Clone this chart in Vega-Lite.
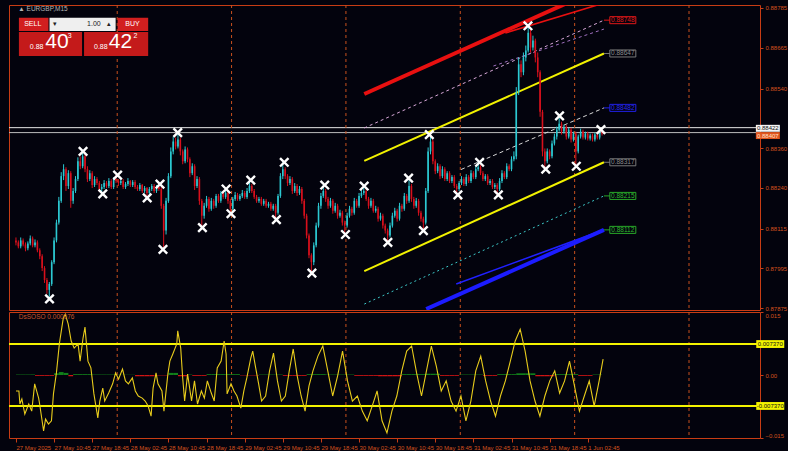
{
"$schema":"https://vega.github.io/schema/vega-lite/v6.json",
"background":"#03030d",
"padding":{"left":7,"top":4,"right":0,"bottom":0},
"spacing":2,
"bounds":"flush",
"config":{"view":{"stroke":"#c83c14","strokeWidth":1},"font":"Liberation Sans","axis":{"grid":false,"domain":false,"labelFont":"Liberation Sans","labelFontSize":6,"labelColor":"#d2521e","tickColor":"#c83c14","tickSize":3}},
"resolve":{"scale":{"x":"independent","y":"independent"}},
"datasets":{
"midnight":[{"t":21.25},{"t":45.25},{"t":69.25},{"t":93.25},{"t":117.25},{"t":141.25}],
"candles":[
{"t":0,"o":0.8808,"h":0.88089,"l":0.88065,"c":0.88074},{"t":0.5,"o":0.88074,"h":0.8808,"l":0.88056,"c":0.88062},{"t":1,"o":0.88062,"h":0.88089,"l":0.88056,"c":0.8808},{"t":1.5,"o":0.8808,"h":0.88086,"l":0.88062,"c":0.88068},{"t":2,"o":0.88068,"h":0.88074,"l":0.88047,"c":0.88056},{"t":2.5,"o":0.88056,"h":0.88077,"l":0.8805,"c":0.88071},{"t":3,"o":0.88071,"h":0.88095,"l":0.88065,"c":0.88086},{"t":3.5,"o":0.88086,"h":0.88092,"l":0.88059,"c":0.88065},{"t":4,"o":0.88065,"h":0.88083,"l":0.88059,"c":0.88074},{"t":4.5,"o":0.88074,"h":0.8808,"l":0.88044,"c":0.8805},
{"t":5,"o":0.8805,"h":0.88056,"l":0.88023,"c":0.88032},{"t":5.5,"o":0.88032,"h":0.88038,"l":0.87987,"c":0.87996},{"t":6,"o":0.87996,"h":0.88002,"l":0.87951,"c":0.8796},{"t":6.5,"o":0.8796,"h":0.87966,"l":0.87918,"c":0.8793},{"t":7,"o":0.8793,"h":0.87954,"l":0.87909,"c":0.87948},{"t":7.5,"o":0.87948,"h":0.8802,"l":0.87942,"c":0.88014},{"t":8,"o":0.88014,"h":0.88089,"l":0.88008,"c":0.8808},{"t":8.5,"o":0.8808,"h":0.88143,"l":0.88074,"c":0.88134},{"t":9,"o":0.88134,"h":0.88212,"l":0.88128,"c":0.882},{"t":9.5,"o":0.882,"h":0.88287,"l":0.88194,"c":0.88275},
{"t":10,"o":0.88275,"h":0.88311,"l":0.88263,"c":0.88296},{"t":10.5,"o":0.88296,"h":0.88302,"l":0.8823,"c":0.88245},{"t":11,"o":0.88245,"h":0.88293,"l":0.88236,"c":0.88284},{"t":11.5,"o":0.88284,"h":0.8829,"l":0.88179,"c":0.882},{"t":12,"o":0.882,"h":0.88239,"l":0.88191,"c":0.8823},{"t":12.5,"o":0.8823,"h":0.88275,"l":0.88224,"c":0.88266},{"t":13,"o":0.88266,"h":0.88332,"l":0.8826,"c":0.8832},{"t":13.5,"o":0.8832,"h":0.88335,"l":0.88296,"c":0.88305},{"t":14,"o":0.88305,"h":0.8835,"l":0.88299,"c":0.88335},{"t":14.5,"o":0.88335,"h":0.88341,"l":0.88287,"c":0.88296},
{"t":15,"o":0.88296,"h":0.88305,"l":0.88257,"c":0.88266},{"t":15.5,"o":0.88266,"h":0.88293,"l":0.8826,"c":0.88284},{"t":16,"o":0.88284,"h":0.8829,"l":0.88239,"c":0.88248},{"t":16.5,"o":0.88248,"h":0.88275,"l":0.88242,"c":0.88266},{"t":17,"o":0.88266,"h":0.88272,"l":0.88248,"c":0.88254},{"t":17.5,"o":0.88254,"h":0.8826,"l":0.88227,"c":0.88236},{"t":18,"o":0.88236,"h":0.88251,"l":0.88221,"c":0.88242},{"t":18.5,"o":0.88242,"h":0.88263,"l":0.88236,"c":0.88254},{"t":19,"o":0.88254,"h":0.8826,"l":0.88239,"c":0.88245},{"t":19.5,"o":0.88245,"h":0.88269,"l":0.88239,"c":0.8826},
{"t":20,"o":0.8826,"h":0.88266,"l":0.88236,"c":0.88242},{"t":20.5,"o":0.88242,"h":0.88272,"l":0.88236,"c":0.88266},{"t":21,"o":0.88266,"h":0.88278,"l":0.88254,"c":0.8826},{"t":21.5,"o":0.8826,"h":0.88266,"l":0.88245,"c":0.88254},{"t":22,"o":0.88254,"h":0.88269,"l":0.88248,"c":0.8826},{"t":22.5,"o":0.8826,"h":0.88266,"l":0.88236,"c":0.88242},{"t":23,"o":0.88242,"h":0.88257,"l":0.88236,"c":0.88251},{"t":23.5,"o":0.88251,"h":0.88269,"l":0.88245,"c":0.8826},{"t":24,"o":0.8826,"h":0.88263,"l":0.88242,"c":0.88248},{"t":24.5,"o":0.88248,"h":0.88263,"l":0.88242,"c":0.88257},
{"t":25,"o":0.88257,"h":0.88263,"l":0.88236,"c":0.88242},{"t":25.5,"o":0.88242,"h":0.88248,"l":0.8823,"c":0.88236},{"t":26,"o":0.88236,"h":0.88254,"l":0.8823,"c":0.88248},{"t":26.5,"o":0.88248,"h":0.88251,"l":0.88224,"c":0.8823},{"t":27,"o":0.8823,"h":0.88245,"l":0.88224,"c":0.88239},{"t":27.5,"o":0.88239,"h":0.88242,"l":0.88209,"c":0.88224},{"t":28,"o":0.88224,"h":0.88242,"l":0.88218,"c":0.88236},{"t":28.5,"o":0.88236,"h":0.88251,"l":0.8823,"c":0.88245},{"t":29,"o":0.88245,"h":0.88251,"l":0.88224,"c":0.8823},{"t":29.5,"o":0.8823,"h":0.88248,"l":0.88224,"c":0.88242},
{"t":30,"o":0.88242,"h":0.88254,"l":0.8823,"c":0.88236},{"t":30.5,"o":0.88236,"h":0.88242,"l":0.88176,"c":0.88185},{"t":31,"o":0.88185,"h":0.88191,"l":0.88053,"c":0.8811},{"t":31.5,"o":0.8811,"h":0.88209,"l":0.88098,"c":0.882},{"t":32,"o":0.882,"h":0.88284,"l":0.88194,"c":0.88275},{"t":32.5,"o":0.88275,"h":0.88362,"l":0.88269,"c":0.8835},{"t":33,"o":0.8835,"h":0.88395,"l":0.88341,"c":0.8838},{"t":33.5,"o":0.8838,"h":0.88392,"l":0.88356,"c":0.88365},{"t":34,"o":0.88365,"h":0.88407,"l":0.88359,"c":0.88386},{"t":34.5,"o":0.88386,"h":0.88392,"l":0.88338,"c":0.8835},
{"t":35,"o":0.8835,"h":0.88356,"l":0.88311,"c":0.8832},{"t":35.5,"o":0.8832,"h":0.88365,"l":0.88314,"c":0.88356},{"t":36,"o":0.88356,"h":0.88362,"l":0.88317,"c":0.88326},{"t":36.5,"o":0.88326,"h":0.88332,"l":0.88272,"c":0.88284},{"t":37,"o":0.88284,"h":0.88314,"l":0.88278,"c":0.88305},{"t":37.5,"o":0.88305,"h":0.88311,"l":0.88233,"c":0.88245},{"t":38,"o":0.88245,"h":0.88275,"l":0.88239,"c":0.88266},{"t":38.5,"o":0.88266,"h":0.88272,"l":0.88188,"c":0.882},{"t":39,"o":0.882,"h":0.88206,"l":0.88119,"c":0.88155},{"t":39.5,"o":0.88155,"h":0.88194,"l":0.88146,"c":0.88185},
{"t":40,"o":0.88185,"h":0.88215,"l":0.88179,"c":0.88206},{"t":40.5,"o":0.88206,"h":0.88212,"l":0.88167,"c":0.88176},{"t":41,"o":0.88176,"h":0.88209,"l":0.8817,"c":0.882},{"t":41.5,"o":0.882,"h":0.88206,"l":0.88176,"c":0.88185},{"t":42,"o":0.88185,"h":0.88221,"l":0.88179,"c":0.88215},{"t":42.5,"o":0.88215,"h":0.88221,"l":0.88194,"c":0.882},{"t":43,"o":0.882,"h":0.8823,"l":0.88194,"c":0.88224},{"t":43.5,"o":0.88224,"h":0.8823,"l":0.88206,"c":0.88212},{"t":44,"o":0.88212,"h":0.88236,"l":0.88206,"c":0.88224},{"t":44.5,"o":0.88224,"h":0.8823,"l":0.88191,"c":0.882},
{"t":45,"o":0.882,"h":0.88206,"l":0.88161,"c":0.88176},{"t":45.5,"o":0.88176,"h":0.88212,"l":0.8817,"c":0.88206},{"t":46,"o":0.88206,"h":0.88227,"l":0.882,"c":0.88218},{"t":46.5,"o":0.88218,"h":0.88224,"l":0.882,"c":0.88206},{"t":47,"o":0.88206,"h":0.88221,"l":0.882,"c":0.88215},{"t":47.5,"o":0.88215,"h":0.88233,"l":0.88209,"c":0.88224},{"t":48,"o":0.88224,"h":0.8823,"l":0.88206,"c":0.88212},{"t":48.5,"o":0.88212,"h":0.88239,"l":0.88206,"c":0.8823},{"t":49,"o":0.8823,"h":0.88263,"l":0.88224,"c":0.88245},{"t":49.5,"o":0.88245,"h":0.88251,"l":0.88224,"c":0.8823},
{"t":50,"o":0.8823,"h":0.88236,"l":0.88206,"c":0.88212},{"t":50.5,"o":0.88212,"h":0.88218,"l":0.88194,"c":0.882},{"t":51,"o":0.882,"h":0.88212,"l":0.88194,"c":0.88206},{"t":51.5,"o":0.88206,"h":0.88212,"l":0.88185,"c":0.88191},{"t":52,"o":0.88191,"h":0.88206,"l":0.88185,"c":0.882},{"t":52.5,"o":0.882,"h":0.88206,"l":0.88179,"c":0.88185},{"t":53,"o":0.88185,"h":0.88197,"l":0.88179,"c":0.88191},{"t":53.5,"o":0.88191,"h":0.88197,"l":0.8817,"c":0.88176},{"t":54,"o":0.88176,"h":0.88191,"l":0.8817,"c":0.88185},{"t":54.5,"o":0.88185,"h":0.88191,"l":0.88143,"c":0.88164},
{"t":55,"o":0.88164,"h":0.88221,"l":0.88158,"c":0.88215},{"t":55.5,"o":0.88215,"h":0.88284,"l":0.88209,"c":0.88275},{"t":56,"o":0.88275,"h":0.88317,"l":0.88266,"c":0.88296},{"t":56.5,"o":0.88296,"h":0.88302,"l":0.88266,"c":0.88275},{"t":57,"o":0.88275,"h":0.88281,"l":0.88245,"c":0.88254},{"t":57.5,"o":0.88254,"h":0.88275,"l":0.88248,"c":0.88266},{"t":58,"o":0.88266,"h":0.88272,"l":0.88221,"c":0.8823},{"t":58.5,"o":0.8823,"h":0.88254,"l":0.88224,"c":0.88245},{"t":59,"o":0.88245,"h":0.88251,"l":0.88215,"c":0.88224},{"t":59.5,"o":0.88224,"h":0.88245,"l":0.88218,"c":0.88236},
{"t":60,"o":0.88236,"h":0.88242,"l":0.88191,"c":0.882},{"t":60.5,"o":0.882,"h":0.88206,"l":0.88146,"c":0.88155},{"t":61,"o":0.88155,"h":0.88161,"l":0.88086,"c":0.88095},{"t":61.5,"o":0.88095,"h":0.88101,"l":0.88026,"c":0.88035},{"t":62,"o":0.88035,"h":0.88041,"l":0.87981,"c":0.88014},{"t":62.5,"o":0.88014,"h":0.88074,"l":0.88005,"c":0.88065},{"t":63,"o":0.88065,"h":0.88134,"l":0.88059,"c":0.88125},{"t":63.5,"o":0.88125,"h":0.88194,"l":0.88119,"c":0.88185},{"t":64,"o":0.88185,"h":0.88224,"l":0.88176,"c":0.88215},{"t":64.5,"o":0.88215,"h":0.88248,"l":0.88209,"c":0.8823},
{"t":65,"o":0.8823,"h":0.88236,"l":0.88197,"c":0.88206},{"t":65.5,"o":0.88206,"h":0.88212,"l":0.88176,"c":0.88185},{"t":66,"o":0.88185,"h":0.88209,"l":0.88179,"c":0.882},{"t":66.5,"o":0.882,"h":0.88206,"l":0.88161,"c":0.8817},{"t":67,"o":0.8817,"h":0.88194,"l":0.88164,"c":0.88185},{"t":67.5,"o":0.88185,"h":0.88191,"l":0.88146,"c":0.88155},{"t":68,"o":0.88155,"h":0.88173,"l":0.88149,"c":0.88164},{"t":68.5,"o":0.88164,"h":0.8817,"l":0.88125,"c":0.88134},{"t":69,"o":0.88134,"h":0.8814,"l":0.88098,"c":0.88125},{"t":69.5,"o":0.88125,"h":0.88164,"l":0.88119,"c":0.88155},
{"t":70,"o":0.88155,"h":0.88185,"l":0.88149,"c":0.88176},{"t":70.5,"o":0.88176,"h":0.88182,"l":0.88155,"c":0.88164},{"t":71,"o":0.88164,"h":0.88209,"l":0.88158,"c":0.882},{"t":71.5,"o":0.882,"h":0.88206,"l":0.88179,"c":0.88185},{"t":72,"o":0.88185,"h":0.88224,"l":0.88179,"c":0.88215},{"t":72.5,"o":0.88215,"h":0.88233,"l":0.88209,"c":0.88224},{"t":73,"o":0.88224,"h":0.88245,"l":0.88218,"c":0.8823},{"t":73.5,"o":0.8823,"h":0.88236,"l":0.882,"c":0.88206},{"t":74,"o":0.88206,"h":0.88212,"l":0.88176,"c":0.88185},{"t":74.5,"o":0.88185,"h":0.88209,"l":0.88179,"c":0.882},
{"t":75,"o":0.882,"h":0.88206,"l":0.88164,"c":0.8817},{"t":75.5,"o":0.8817,"h":0.88185,"l":0.88164,"c":0.88176},{"t":76,"o":0.88176,"h":0.88182,"l":0.88137,"c":0.88146},{"t":76.5,"o":0.88146,"h":0.88164,"l":0.8814,"c":0.88155},{"t":77,"o":0.88155,"h":0.88161,"l":0.88116,"c":0.88125},{"t":77.5,"o":0.88125,"h":0.88131,"l":0.88101,"c":0.8811},{"t":78,"o":0.8811,"h":0.88116,"l":0.88074,"c":0.88095},{"t":78.5,"o":0.88095,"h":0.88134,"l":0.88089,"c":0.88125},{"t":79,"o":0.88125,"h":0.88164,"l":0.88119,"c":0.88155},{"t":79.5,"o":0.88155,"h":0.88179,"l":0.88149,"c":0.8817},
{"t":80,"o":0.8817,"h":0.88176,"l":0.88137,"c":0.88146},{"t":80.5,"o":0.88146,"h":0.88194,"l":0.8814,"c":0.88185},{"t":81,"o":0.88185,"h":0.88191,"l":0.88167,"c":0.88176},{"t":81.5,"o":0.88176,"h":0.88224,"l":0.8817,"c":0.88215},{"t":82,"o":0.88215,"h":0.88221,"l":0.88191,"c":0.882},{"t":82.5,"o":0.882,"h":0.88269,"l":0.88194,"c":0.88245},{"t":83,"o":0.88245,"h":0.88251,"l":0.88197,"c":0.88206},{"t":83.5,"o":0.88206,"h":0.88212,"l":0.88176,"c":0.88185},{"t":84,"o":0.88185,"h":0.88209,"l":0.88179,"c":0.882},{"t":84.5,"o":0.882,"h":0.88206,"l":0.88155,"c":0.88164},
{"t":85,"o":0.88164,"h":0.8817,"l":0.88137,"c":0.88146},{"t":85.5,"o":0.88146,"h":0.88152,"l":0.8811,"c":0.88134},{"t":86,"o":0.88134,"h":0.88239,"l":0.88128,"c":0.8823},{"t":86.5,"o":0.8823,"h":0.88362,"l":0.88224,"c":0.8835},{"t":87,"o":0.8835,"h":0.88401,"l":0.88341,"c":0.8838},{"t":87.5,"o":0.8838,"h":0.88386,"l":0.88311,"c":0.8832},{"t":88,"o":0.8832,"h":0.88326,"l":0.88281,"c":0.8829},{"t":88.5,"o":0.8829,"h":0.88314,"l":0.88284,"c":0.88305},{"t":89,"o":0.88305,"h":0.88311,"l":0.88266,"c":0.88275},{"t":89.5,"o":0.88275,"h":0.88305,"l":0.88269,"c":0.88296},
{"t":90,"o":0.88296,"h":0.88302,"l":0.8826,"c":0.88266},{"t":90.5,"o":0.88266,"h":0.8829,"l":0.8826,"c":0.88284},{"t":91,"o":0.88284,"h":0.8829,"l":0.88254,"c":0.8826},{"t":91.5,"o":0.8826,"h":0.88278,"l":0.88254,"c":0.88272},{"t":92,"o":0.88272,"h":0.88278,"l":0.88239,"c":0.88245},{"t":92.5,"o":0.88245,"h":0.88251,"l":0.88218,"c":0.88236},{"t":93,"o":0.88236,"h":0.8826,"l":0.8823,"c":0.88254},{"t":93.5,"o":0.88254,"h":0.88275,"l":0.88248,"c":0.88266},{"t":94,"o":0.88266,"h":0.88272,"l":0.88245,"c":0.88251},{"t":94.5,"o":0.88251,"h":0.88281,"l":0.88245,"c":0.88272},
{"t":95,"o":0.88272,"h":0.88278,"l":0.88254,"c":0.8826},{"t":95.5,"o":0.8826,"h":0.88293,"l":0.88254,"c":0.88284},{"t":96,"o":0.88284,"h":0.8829,"l":0.88266,"c":0.88272},{"t":96.5,"o":0.88272,"h":0.88305,"l":0.88266,"c":0.88296},{"t":97,"o":0.88296,"h":0.88317,"l":0.8829,"c":0.88302},{"t":97.5,"o":0.88302,"h":0.88308,"l":0.88278,"c":0.88284},{"t":98,"o":0.88284,"h":0.8829,"l":0.8826,"c":0.88266},{"t":98.5,"o":0.88266,"h":0.88281,"l":0.8826,"c":0.88275},{"t":99,"o":0.88275,"h":0.88281,"l":0.88248,"c":0.88254},{"t":99.5,"o":0.88254,"h":0.88266,"l":0.88248,"c":0.8826},
{"t":100,"o":0.8826,"h":0.88266,"l":0.88236,"c":0.88242},{"t":100.5,"o":0.88242,"h":0.88254,"l":0.88236,"c":0.88248},{"t":101,"o":0.88248,"h":0.88254,"l":0.88218,"c":0.88236},{"t":101.5,"o":0.88236,"h":0.88269,"l":0.8823,"c":0.8826},{"t":102,"o":0.8826,"h":0.88293,"l":0.88254,"c":0.88284},{"t":102.5,"o":0.88284,"h":0.8829,"l":0.88266,"c":0.88272},{"t":103,"o":0.88272,"h":0.88314,"l":0.88266,"c":0.88305},{"t":103.5,"o":0.88305,"h":0.88311,"l":0.8829,"c":0.88296},{"t":104,"o":0.88296,"h":0.88335,"l":0.8829,"c":0.88326},{"t":104.5,"o":0.88326,"h":0.8835,"l":0.8832,"c":0.88335},
{"t":105,"o":0.88335,"h":0.88545,"l":0.88326,"c":0.8853},{"t":105.5,"o":0.8853,"h":0.88635,"l":0.88521,"c":0.88614},{"t":106,"o":0.88614,"h":0.88626,"l":0.88575,"c":0.8859},{"t":106.5,"o":0.8859,"h":0.8865,"l":0.88581,"c":0.88635},{"t":107,"o":0.88635,"h":0.88671,"l":0.88623,"c":0.88656},{"t":107.5,"o":0.88656,"h":0.88734,"l":0.8865,"c":0.8871},{"t":108,"o":0.8871,"h":0.88719,"l":0.8865,"c":0.88665},{"t":108.5,"o":0.88665,"h":0.88701,"l":0.88656,"c":0.88686},{"t":109,"o":0.88686,"h":0.88692,"l":0.8862,"c":0.88635},{"t":109.5,"o":0.88635,"h":0.8865,"l":0.88575,"c":0.8859},
{"t":110,"o":0.8859,"h":0.88596,"l":0.88455,"c":0.8847},{"t":110.5,"o":0.8847,"h":0.88476,"l":0.88335,"c":0.8835},{"t":111,"o":0.8835,"h":0.88359,"l":0.88296,"c":0.8832},{"t":111.5,"o":0.8832,"h":0.88359,"l":0.88314,"c":0.8835},{"t":112,"o":0.8835,"h":0.88356,"l":0.88326,"c":0.88335},{"t":112.5,"o":0.88335,"h":0.88383,"l":0.88329,"c":0.88374},{"t":113,"o":0.88374,"h":0.88404,"l":0.88368,"c":0.88395},{"t":113.5,"o":0.88395,"h":0.88425,"l":0.88386,"c":0.88416},{"t":114,"o":0.88416,"h":0.88458,"l":0.8841,"c":0.88434},{"t":114.5,"o":0.88434,"h":0.8844,"l":0.88401,"c":0.8841},
{"t":115,"o":0.8841,"h":0.88431,"l":0.88404,"c":0.88425},{"t":115.5,"o":0.88425,"h":0.88431,"l":0.88386,"c":0.88395},{"t":116,"o":0.88395,"h":0.88422,"l":0.88389,"c":0.88416},{"t":116.5,"o":0.88416,"h":0.88422,"l":0.88377,"c":0.88386},{"t":117,"o":0.88386,"h":0.8841,"l":0.8838,"c":0.88404},{"t":117.5,"o":0.88404,"h":0.8841,"l":0.88305,"c":0.8835},{"t":118,"o":0.8835,"h":0.88401,"l":0.88344,"c":0.88395},{"t":118.5,"o":0.88395,"h":0.88419,"l":0.88389,"c":0.8841},{"t":119,"o":0.8841,"h":0.88416,"l":0.88386,"c":0.88392},{"t":119.5,"o":0.88392,"h":0.8841,"l":0.88386,"c":0.88404},
{"t":120,"o":0.88404,"h":0.8841,"l":0.88383,"c":0.88389},{"t":120.5,"o":0.88389,"h":0.88404,"l":0.88383,"c":0.88398},{"t":121,"o":0.88398,"h":0.88404,"l":0.8838,"c":0.88386},{"t":121.5,"o":0.88386,"h":0.88407,"l":0.8838,"c":0.88401},{"t":122,"o":0.88401,"h":0.88407,"l":0.88386,"c":0.88392},{"t":122.5,"o":0.88392,"h":0.88416,"l":0.88386,"c":0.8841},{"t":123,"o":0.8841,"h":0.88416,"l":0.88398,"c":0.88404}
],
"zz":[{"t":7.04,"p":0.87903},{"t":14.08,"p":0.8835},{"t":18.22,"p":0.88221},{"t":21.33,"p":0.88278},{"t":27.54,"p":0.88209},{"t":30.23,"p":0.88251},{"t":30.85,"p":0.88053},{"t":33.95,"p":0.88407},{"t":39.13,"p":0.88119},{"t":44.1,"p":0.88236},{"t":45.13,"p":0.88161},{"t":49.28,"p":0.88263},{"t":54.66,"p":0.88143},{"t":56.31,"p":0.88317},{"t":62.11,"p":0.87981},{"t":64.8,"p":0.88248},{"t":69.15,"p":0.88098},{"t":73.08,"p":0.88245},{"t":78.05,"p":0.88074},{"t":82.4,"p":0.88269},{"t":85.51,"p":0.8811},{"t":86.75,"p":0.88401},{"t":92.75,"p":0.88218},{"t":97.31,"p":0.88317},{"t":101.24,"p":0.88218},{"t":107.45,"p":0.88731},{"t":111.18,"p":0.88296},{"t":114.08,"p":0.88458},{"t":117.6,"p":0.88305},{"t":122.77,"p":0.88416}],
"levels":[
{"name":"outer upper","t1":73.1,"p1":0.88524,"t2":123.4,"p2":0.8885},
{"name":"thin red","t1":102.7,"p1":0.88709,"t2":123.4,"p2":0.888},
{"name":"upper dashed","t1":73.1,"p1":0.88421,"t2":123.4,"p2":0.88748},
{"name":"upper dashed 2","t1":100.2,"p1":0.88609,"t2":123.4,"p2":0.88721},
{"name":"upper","t1":73.1,"p1":0.88321,"t2":123.4,"p2":0.88647},
{"name":"median","t1":93.4,"p1":0.88295,"t2":123.4,"p2":0.88482},
{"name":"lower","t1":73.1,"p1":0.87987,"t2":123.4,"p2":0.88317},
{"name":"lower dotted","t1":73.1,"p1":0.87887,"t2":123.4,"p2":0.88215},
{"name":"thin blue","t1":92.4,"p1":0.87948,"t2":123.4,"p2":0.88112},
{"name":"outer lower","t1":86.1,"p1":0.87872,"t2":123.4,"p2":0.88112}],
"tags":[{"label":"0.88748","p":0.88748},{"label":"0.88647","p":0.88647},{"label":"0.88482","p":0.88482},{"label":"0.88317","p":0.88317},{"label":"0.88215","p":0.88215},{"label":"0.88112","p":0.88112}],
"osc":[
{"t":0,"v":-0.0038},{"t":0.62,"v":-0.0038},{"t":0.83,"v":-0.0069},{"t":1.24,"v":-0.0057},{"t":1.86,"v":-0.0093},{"t":2.69,"v":-0.0069},{"t":3.31,"v":-0.0086},{"t":3.93,"v":-0.0021},{"t":4.76,"v":-0.0055},{"t":4.97,"v":-0.0069},{"t":5.8,"v":-0.0133},{"t":6.21,"v":-0.0105},{"t":6.83,"v":-0.0117},{"t":7.45,"v":-0.0109},{"t":7.87,"v":-0.0045},{"t":8.49,"v":0.0005},{"t":9.11,"v":0.0074},{"t":9.52,"v":0.0105},{"t":9.94,"v":0.0136},{"t":10.35,"v":0.0145},{"t":10.97,"v":0.0121},{"t":11.59,"v":0.0081},{"t":12.22,"v":0.0064},{"t":13.04,"v":0.0074},{"t":13.46,"v":0.0033},{"t":14.08,"v":0.0088},{"t":14.49,"v":0.0114},{"t":15.11,"v":0.0033},{"t":15.73,"v":0.0017},{"t":16.36,"v":-0.0045},{"t":17.18,"v":-0.0102},{"t":17.6,"v":-0.0062},{"t":18.22,"v":-0.0031},{"t":18.63,"v":-0.0062},{"t":19.46,"v":-0.0043},{"t":20.29,"v":-0.0021},{"t":20.91,"v":0.0005},{"t":21.53,"v":-0.001},{"t":22.36,"v":0.0014},{"t":22.98,"v":-0.0014},{"t":23.6,"v":-0.0021},{"t":24.43,"v":-0.0007},{"t":25.05,"v":-0.0038},{"t":25.67,"v":-0.005},{"t":26.5,"v":-0.0055},{"t":27.12,"v":-0.0062},{"t":27.74,"v":-0.0074},{"t":28.36,"v":-0.0098},{"t":28.78,"v":-0.0031},{"t":29.4,"v":0.0005},{"t":29.81,"v":-0.0021},{"t":30.64,"v":-0.0038},{"t":31.06,"v":-0.0086},{"t":31.88,"v":0.0002},{"t":32.3,"v":0.0033},{"t":32.92,"v":0.005},{"t":33.75,"v":0.0074},{"t":33.95,"v":0.0105},{"t":34.58,"v":0.0064},{"t":34.99,"v":-0.0007},{"t":35.4,"v":-0.0062},{"t":36.02,"v":0.0002},{"t":36.85,"v":-0.0062},{"t":37.47,"v":-0.0014},{"t":38.1,"v":-0.0069},{"t":38.92,"v":-0.0038},{"t":39.54,"v":-0.0055},{"t":40.17,"v":-0.0014},{"t":40.99,"v":-0.0043},{"t":41.61,"v":-0.0062},{"t":42.24,"v":0.0017},{"t":43.06,"v":0.0033},{"t":43.69,"v":0.0081},{"t":44.1,"v":0.005},{"t":44.31,"v":-0.0045},{"t":45.13,"v":-0.0021},{"t":45.76,"v":-0.0038},{"t":46.38,"v":-0.005},{"t":47.2,"v":-0.0079},{"t":47.83,"v":-0.0038},{"t":48.45,"v":-0.0007},{"t":49.28,"v":0.004},{"t":49.69,"v":0.0057},{"t":50.31,"v":0.0017},{"t":50.93,"v":-0.0021},{"t":51.55,"v":-0.0062},
{"t":52.39,"v":-0.005},{"t":53.22,"v":0.001},{"t":54.05,"v":0.0052},{"t":54.88,"v":-0.0014},{"t":55.71,"v":-0.0062},{"t":56.53,"v":-0.005},{"t":57.36,"v":0.001},{"t":58.19,"v":0.0062},{"t":59.02,"v":-0.0002},{"t":59.85,"v":-0.005},{"t":60.68,"v":-0.0086},{"t":61.5,"v":-0.0026},{"t":62.33,"v":0.001},{"t":63.37,"v":0.0045},{"t":64.4,"v":0.0069},{"t":65.44,"v":0.001},{"t":66.47,"v":-0.005},{"t":67.51,"v":-0.0002},{"t":68.54,"v":0.0057},{"t":69.58,"v":-0.0014},{"t":70.61,"v":-0.0062},{"t":71.65,"v":-0.005},{"t":72.69,"v":-0.0086},{"t":73.72,"v":-0.0109},{"t":74.76,"v":-0.0074},{"t":75.79,"v":-0.0038},{"t":76.83,"v":-0.0109},{"t":77.86,"v":-0.0138},{"t":78.9,"v":-0.0086},{"t":79.93,"v":-0.005},{"t":80.97,"v":0.001},{"t":82,"v":0.0057},{"t":83.04,"v":0.0069},{"t":84.08,"v":0.0005},{"t":85.11,"v":-0.005},{"t":86.15,"v":0.001},{"t":87.18,"v":0.0069},{"t":88.22,"v":0.0021},{"t":89.25,"v":-0.0038},{"t":90.29,"v":-0.0014},{"t":91.32,"v":-0.0062},{"t":92.36,"v":-0.0086},{"t":93.39,"v":-0.005},{"t":94.43,"v":-0.0109},{"t":95.47,"v":-0.0062},{"t":96.5,"v":0.001},{"t":97.54,"v":0.0045},{"t":98.57,"v":-0.0014},{"t":99.61,"v":-0.0062},{"t":100.64,"v":-0.0098},{"t":101.68,"v":-0.005},{"t":102.71,"v":-0.0014},{"t":103.75,"v":0.0033},{"t":104.78,"v":0.0081},{"t":105.82,"v":0.0109},{"t":106.86,"v":0.0057},{"t":107.89,"v":-0.0014},{"t":108.93,"v":-0.0062},{"t":109.96,"v":-0.0098},{"t":111,"v":-0.005},{"t":112.03,"v":-0.0014},{"t":113.07,"v":0.001},{"t":114.1,"v":-0.0043},{"t":115.14,"v":-0.0014},{"t":116.17,"v":0.0033},{"t":117.21,"v":-0.0026},{"t":118.25,"v":-0.0086},{"t":119.28,"v":-0.005},{"t":120.32,"v":-0.0014},{"t":121.35,"v":-0.0074},{"t":122.39,"v":-0.0014},{"t":123.22,"v":0.0038}],
"hist":[{"t":0.5,"v":0.0001},{"t":1.5,"v":0.0001},{"t":2.5,"v":0.0001},{"t":3.5,"v":0.0001},{"t":4.5,"v":-0.0002},{"t":5.5,"v":-0.0002},{"t":6.5,"v":-0.0002},{"t":7.5,"v":-0.0002},{"t":8.5,"v":0.0004},{"t":9.5,"v":0.0007},{"t":10.5,"v":0.0005},{"t":11.5,"v":-0.0003},{"t":12.5,"v":0.0002},{"t":13.5,"v":0.0002},{"t":14.5,"v":0.0002},{"t":15.5,"v":0.0002},{"t":16.5,"v":0.0001},{"t":17.5,"v":0.0001},{"t":18.5,"v":0.0001},{"t":19.5,"v":0.0001},{"t":20.5,"v":0.0001},{"t":21.5,"v":0.00005},{"t":22.5,"v":0.00005},{"t":23.5,"v":0.00005},{"t":24.5,"v":0.00005},{"t":25.5,"v":-0.0003},{"t":26.5,"v":-0.0003},{"t":27.5,"v":-0.0003},{"t":28.5,"v":-0.0003},{"t":29.5,"v":-0.0001},{"t":30.5,"v":-0.0001},{"t":31.5,"v":-0.0001},{"t":32.5,"v":0.0005},{"t":33.5,"v":0.0005},{"t":34.5,"v":-0.0003},{"t":35.5,"v":-0.0003},{"t":36.5,"v":0.0001},{"t":37.5,"v":-0.0002},{"t":38.5,"v":-0.0002},{"t":39.5,"v":-0.0002},{"t":40.5,"v":0.0002},{"t":41.5,"v":0.0002},{"t":42.5,"v":0.0002},{"t":43.5,"v":0.0002},{"t":44.5,"v":0.0002},{"t":45.5,"v":0.0002},{"t":46.5,"v":0.0002},{"t":47.5,"v":-0.0001},{"t":48.5,"v":-0.0001},{"t":49.5,"v":-0.0001},{"t":50.5,"v":-0.0001},{"t":51.5,"v":0.0001},{"t":52.5,"v":0.0001},{"t":53.5,"v":0.0001},{"t":54.5,"v":0.0001},{"t":55.5,"v":0.0001},{"t":56.5,"v":-0.0002},{"t":57.5,"v":-0.0002},{"t":58.5,"v":-0.0002},{"t":59.5,"v":-0.0002},{"t":60.5,"v":-0.0002},{"t":61.5,"v":0.0002},{"t":62.5,"v":0.0002},{"t":63.5,"v":0.0002},{"t":64.5,"v":0.0002},{"t":65.5,"v":0.0001},{"t":66.5,"v":0.0001},{"t":67.5,"v":0.0001},{"t":68.5,"v":0.0001},{"t":69.5,"v":0.0001},{"t":70.5,"v":0.0001},{"t":71.5,"v":-0.0002},{"t":72.5,"v":-0.0002},{"t":73.5,"v":-0.0002},{"t":74.5,"v":-0.0002},{"t":75.5,"v":-0.0002},{"t":76.5,"v":-0.0003},{"t":77.5,"v":-0.0003},{"t":78.5,"v":-0.0003},{"t":79.5,"v":-0.0003},{"t":80.5,"v":-0.0003},{"t":81.5,"v":0.0002},{"t":82.5,"v":0.0002},{"t":83.5,"v":0.0002},{"t":84.5,"v":0.0002},{"t":85.5,"v":0.0002},{"t":86.5,"v":0.0003},{"t":87.5,"v":0.0003},{"t":88.5,"v":0.0003},{"t":89.5,"v":-0.0002},{"t":90.5,"v":-0.0002},{"t":91.5,"v":-0.0002},{"t":92.5,"v":-0.0002},{"t":93.5,"v":0.0001},{"t":94.5,"v":0.0001},{"t":95.5,"v":0.0001},{"t":96.5,"v":0.0001},{"t":97.5,"v":0.0001},{"t":98.5,"v":-0.0002},{"t":99.5,"v":-0.0002},{"t":100.5,"v":-0.0002},{"t":101.5,"v":0.0002},{"t":102.5,"v":0.0002},{"t":103.5,"v":0.0002},{"t":104.5,"v":0.0002},{"t":105.5,"v":0.0004},{"t":106.5,"v":0.0004},{"t":107.5,"v":0.0004},{"t":108.5,"v":0.0004},{"t":109.5,"v":-0.0003},{"t":110.5,"v":-0.0003},{"t":111.5,"v":-0.0003},{"t":112.5,"v":-0.0003},{"t":113.5,"v":0.0002},{"t":114.5,"v":0.0002},{"t":115.5,"v":0.0002},{"t":116.5,"v":0.0002},{"t":117.5,"v":0.0002},{"t":118.5,"v":-0.0002},{"t":119.5,"v":-0.0002},{"t":120.5,"v":-0.0002},{"t":121.5,"v":0.0001},{"t":122.5,"v":0.0001}]
},
"vconcat":[
{
"width":751,"height":305,
"resolve":{"scale":{"color":"independent","fill":"independent","stroke":"independent","strokeDash":"independent"}},
"layer":[
{"data":{"values":[{"price":0.88422},{"price":0.88407}]},"mark":{"type":"rule","strokeWidth":1},
 "encoding":{"y":{"field":"price","type":"quantitative","scale":{"domain":[0.87869,0.88794],"nice":false,"zero":false},
   "axis":{"orient":"right","title":null,"values":[0.88785,0.88725,0.88665,0.88605,0.8854,0.8848,0.8836,0.883,0.8824,0.88175,0.88115,0.88055,0.87995,0.87935,0.87875],"format":".5f","labelPadding":2,"tickSize":3}},
 "color":{"field":"price","type":"nominal","scale":{"domain":[0.88422,0.88407],"range":["#e8e8e8","#bdbdbd"]},"legend":null}}},
{"data":{"name":"midnight"},"mark":{"type":"rule","color":"#c8501e","strokeDash":[3,3],"strokeWidth":1},
 "encoding":{"x":{"field":"t","type":"quantitative","scale":{"domain":[-0.41,155.1],"nice":false,"zero":false},"axis":null}}},
{"data":{"name":"levels"},"transform":[{"filter":{"field":"name","oneOf":["upper dashed","upper dashed 2","median","lower dotted"]}}],"mark":{"type":"rule","strokeWidth":1,"clip":true},
 "encoding":{"x":{"field":"t1","type":"quantitative","scale":{"domain":[-0.41,155.1],"nice":false,"zero":false},"axis":null},"x2":{"field":"t2"},
 "y":{"field":"p1","type":"quantitative","scale":{"domain":[0.87869,0.88794],"nice":false,"zero":false}},"y2":{"field":"p2"},
 "color":{"field":"name","type":"nominal","scale":{"domain":["upper dashed","upper dashed 2","median","lower dotted"],"range":["#d8a8d8","#a070c0","#d8d8d8","#3cc8c8"]},"legend":null},
 "strokeDash":{"field":"name","type":"nominal","scale":{"domain":["upper dashed","upper dashed 2","median","lower dotted"],"range":[[3,3],[3,3],[4,3],[2,3]]},"legend":null}}},
{"data":{"name":"levels"},"transform":[{"filter":{"field":"name","oneOf":["thin red","thin blue"]}}],"mark":{"type":"rule","strokeWidth":1.6,"clip":true},
 "encoding":{"x":{"field":"t1","type":"quantitative","scale":{"domain":[-0.41,155.1],"nice":false,"zero":false},"axis":null},"x2":{"field":"t2"},
 "y":{"field":"p1","type":"quantitative","scale":{"domain":[0.87869,0.88794],"nice":false,"zero":false}},"y2":{"field":"p2"},
 "color":{"field":"name","type":"nominal","scale":{"domain":["thin red","thin blue"],"range":["#e81010","#2020ff"]},"legend":null}}},
{"data":{"name":"levels"},"transform":[{"filter":{"field":"name","oneOf":["upper","lower"]}}],"mark":{"type":"rule","strokeWidth":2,"color":"#f2f200","clip":true},
 "encoding":{"x":{"field":"t1","type":"quantitative","scale":{"domain":[-0.41,155.1],"nice":false,"zero":false},"axis":null},"x2":{"field":"t2"},
 "y":{"field":"p1","type":"quantitative","scale":{"domain":[0.87869,0.88794],"nice":false,"zero":false}},"y2":{"field":"p2"}}},
{"data":{"name":"levels"},"transform":[{"filter":{"field":"name","oneOf":["outer upper","outer lower"]}}],"mark":{"type":"rule","strokeWidth":4,"clip":true},
 "encoding":{"x":{"field":"t1","type":"quantitative","scale":{"domain":[-0.41,155.1],"nice":false,"zero":false},"axis":null},"x2":{"field":"t2"},
 "y":{"field":"p1","type":"quantitative","scale":{"domain":[0.87869,0.88794],"nice":false,"zero":false}},"y2":{"field":"p2"},
 "color":{"field":"name","type":"nominal","scale":{"domain":["outer upper","outer lower"],"range":["#e81010","#1c1cff"]},"legend":null}}},
{"data":{"name":"candles"},"mark":{"type":"rule","strokeWidth":1},
 "encoding":{"x":{"field":"t","type":"quantitative","scale":{"domain":[-0.41,155.1],"nice":false,"zero":false},"axis":null},
 "y":{"field":"l","type":"quantitative","scale":{"domain":[0.87869,0.88794],"nice":false,"zero":false}},
 "y2":{"field":"h"},
 "color":{"condition":{"test":"datum.c >= datum.o","value":"#2cc9d2"},"value":"#d8101c"}}},
{"data":{"name":"candles"},"mark":{"type":"bar","size":1.6},
 "encoding":{"x":{"field":"t","type":"quantitative","scale":{"domain":[-0.41,155.1],"nice":false,"zero":false},"axis":null},
 "y":{"field":"o","type":"quantitative","scale":{"domain":[0.87869,0.88794],"nice":false,"zero":false}},"y2":{"field":"c"},
 "color":{"condition":{"test":"datum.c >= datum.o","value":"#2cc9d2"},"value":"#d8101c"}}},
{"data":{"name":"zz"},"mark":{"type":"point","shape":"M-1,-1L1,1M-1,1L1,-1","filled":false,"stroke":"#ffffff","strokeWidth":2.4,"size":72,"opacity":1},
 "encoding":{"x":{"field":"t","type":"quantitative","scale":{"domain":[-0.41,155.1],"nice":false,"zero":false},"axis":null},
 "y":{"field":"p","type":"quantitative","scale":{"domain":[0.87869,0.88794],"nice":false,"zero":false}}}},
{"data":{"name":"tags"},"mark":{"type":"point","shape":"M-1,-0.27H1V0.27H-1ZM-1,0H-1.45","filled":false,"strokeWidth":1,"size":676,"opacity":1},
 "encoding":{"x":{"datum":127.36,"type":"quantitative","scale":{"domain":[-0.41,155.1],"nice":false,"zero":false},"axis":null},
 "y":{"field":"p","type":"quantitative","scale":{"domain":[0.87869,0.88794],"nice":false,"zero":false}},
 "stroke":{"field":"label","type":"nominal","scale":{"domain":["0.88748","0.88647","0.88482","0.88317","0.88215","0.88112"],"range":["#e01818","#7a7a7a","#2020e8","#7a7a7a","#28a828","#28a828"]},"legend":null}}},
{"data":{"name":"tags"},"mark":{"type":"text","fontSize":6.5,"align":"center","baseline":"middle"},
 "encoding":{"x":{"datum":127.36,"type":"quantitative","scale":{"domain":[-0.41,155.1],"nice":false,"zero":false},"axis":null},
 "y":{"field":"p","type":"quantitative","scale":{"domain":[0.87869,0.88794],"nice":false,"zero":false}},
 "text":{"field":"label"},
 "color":{"field":"label","type":"nominal","scale":{"domain":["0.88748","0.88647","0.88482","0.88317","0.88215","0.88112"],"range":["#e01818","#8a8a8a","#2828f0","#8a8a8a","#30b830","#30b830"]},"legend":null}}},
{"data":{"values":[{"p":0.8842,"label":"0.88422"},{"p":0.88398,"label":"0.88407"}]},"mark":{"type":"point","shape":"M-1,-0.29H1V0.29H-1Z","filled":true,"size":576,"opacity":1},
 "encoding":{"x":{"datum":157.8,"type":"quantitative","scale":{"domain":[-0.41,155.1],"nice":false,"zero":false},"axis":null},
 "y":{"field":"p","type":"quantitative","scale":{"domain":[0.87869,0.88794],"nice":false,"zero":false}},
 "fill":{"field":"label","type":"nominal","scale":{"domain":["0.88422","0.88407"],"range":["#f4f4f4","#e2561e"]},"legend":null}}},
{"data":{"values":[{"p":0.8842,"label":"0.88422"},{"p":0.88398,"label":"0.88407"}]},"mark":{"type":"text","fontSize":6,"align":"center","baseline":"middle"},
 "encoding":{"x":{"datum":157.8,"type":"quantitative","scale":{"domain":[-0.41,155.1],"nice":false,"zero":false},"axis":null},
 "y":{"field":"p","type":"quantitative","scale":{"domain":[0.87869,0.88794],"nice":false,"zero":false}},
 "text":{"field":"label"},
 "color":{"field":"label","type":"nominal","scale":{"domain":["0.88422","0.88407"],"range":["#111111","#ffe0c8"]},"legend":null}}},
{"data":{"values":[{"part":"button","t1":0.62,"t2":6.83,"p1":0.88755,"p2":0.88715},{"part":"lot","t1":7.04,"t2":20.92,"p1":0.88755,"p2":0.88715},{"part":"button","t1":21.33,"t2":27.75,"p1":0.88755,"p2":0.88715},{"part":"quote","t1":0.62,"t2":13.87,"p1":0.88712,"p2":0.88639},{"part":"quote","t1":14.29,"t2":27.75,"p1":0.88712,"p2":0.88639}]},
 "mark":{"type":"rect"},
 "encoding":{"x":{"field":"t1","type":"quantitative","scale":{"domain":[-0.41,155.1],"nice":false,"zero":false},"axis":null},"x2":{"field":"t2"},
 "y":{"field":"p1","type":"quantitative","scale":{"domain":[0.87869,0.88794],"nice":false,"zero":false}},"y2":{"field":"p2"},
 "fill":{"field":"part","type":"nominal","scale":{"domain":["button","lot","quote"],"range":["#d21f1f","#efefef","#c41a1a"]},"legend":null}}},
{"data":{"values":[{"text":"SELL","t":3.52,"p":0.88736},{"text":"BUY","t":24.44,"p":0.88736},{"text":"0.88","t":4.35,"p":0.88668},{"text":"0.88","t":17.81,"p":0.88668}]},
 "mark":{"type":"text","fontSize":7,"color":"#ffffff","align":"center","baseline":"middle"},
 "encoding":{"x":{"field":"t","type":"quantitative","scale":{"domain":[-0.41,155.1],"nice":false,"zero":false},"axis":null},
 "y":{"field":"p","type":"quantitative","scale":{"domain":[0.87869,0.88794],"nice":false,"zero":false}},"text":{"field":"text"}}},
{"data":{"values":[{"text":"40","t":8.6,"p":0.88681},{"text":"42","t":21.95,"p":0.88681}]},
 "mark":{"type":"text","fontSize":21,"color":"#ffffff","align":"center","baseline":"middle"},
 "encoding":{"x":{"field":"t","type":"quantitative","scale":{"domain":[-0.41,155.1],"nice":false,"zero":false},"axis":null},
 "y":{"field":"p","type":"quantitative","scale":{"domain":[0.87869,0.88794],"nice":false,"zero":false}},"text":{"field":"text"}}},
{"data":{"values":[{"text":"3","t":11.3,"p":0.887},{"text":"2","t":25.1,"p":0.887}]},
 "mark":{"type":"text","fontSize":7,"color":"#ffffff","align":"center","baseline":"middle"},
 "encoding":{"x":{"field":"t","type":"quantitative","scale":{"domain":[-0.41,155.1],"nice":false,"zero":false},"axis":null},
 "y":{"field":"p","type":"quantitative","scale":{"domain":[0.87869,0.88794],"nice":false,"zero":false}},"text":{"field":"text"}}},
{"data":{"values":[{"text":"1.00","t":16.36,"p":0.88736},{"text":"▾","t":8.28,"p":0.88736},{"text":"▴","t":19.47,"p":0.88736}]},
 "mark":{"type":"text","fontSize":7,"color":"#222222","align":"center","baseline":"middle"},
 "encoding":{"x":{"field":"t","type":"quantitative","scale":{"domain":[-0.41,155.1],"nice":false,"zero":false},"axis":null},
 "y":{"field":"p","type":"quantitative","scale":{"domain":[0.87869,0.88794],"nice":false,"zero":false}},"text":{"field":"text"}}},
{"data":{"values":[{"text":"▲ EURGBP,M15","t":0.5,"p":0.88781}]},
 "mark":{"type":"text","fontSize":6.5,"color":"#b4b4b4","align":"left","baseline":"middle"},
 "encoding":{"x":{"field":"t","type":"quantitative","scale":{"domain":[-0.41,155.1],"nice":false,"zero":false},"axis":null},
 "y":{"field":"p","type":"quantitative","scale":{"domain":[0.87869,0.88794],"nice":false,"zero":false}},"text":{"field":"text"}}}
]
},
{
"width":751,"height":126,
"layer":[
{"data":{"name":"midnight"},"mark":{"type":"rule","color":"#c8501e","strokeDash":[3,3],"strokeWidth":1},
 "encoding":{"x":{"field":"t","type":"quantitative","scale":{"domain":[-0.41,155.1],"nice":false,"zero":false},
   "axis":{"orient":"bottom","title":null,"values":[0,8,16,24,32,40,48,56,64,72,80,88,96,104,112,120],"labelExpr":"['27 May 2025','27 May 10:45','27 May 18:45','28 May 02:45','28 May 10:45','28 May 18:45','29 May 02:45','29 May 10:45','29 May 18:45','30 May 02:45','30 May 10:45','30 May 18:45','31 May 02:45','31 May 10:45','31 May 18:45','1 Jun 02:45'][round(datum.value/8)]","labelAlign":"left","labelPadding":2,"tickSize":4,"labelFlush":false,"labelOverlap":false,"labelBound":false}}}},
{"data":{"values":[{"v":0.00737},{"v":-0.00737}]},"mark":{"type":"rule","color":"#f4f400","strokeWidth":2},
 "encoding":{"y":{"field":"v","type":"quantitative","scale":{"domain":[-0.015,0.015],"nice":false,"zero":false},
   "axis":{"orient":"right","title":null,"values":[0.015,0,-0.015],"labelExpr":"datum.value == 0 ? '0.00' : format(datum.value, '.3f')","labelFlush":true,"labelPadding":2,"tickSize":3}}}},
{"data":{"name":"hist"},"mark":{"type":"bar","size":4.8},
 "encoding":{"x":{"field":"t","type":"quantitative","scale":{"domain":[-0.41,155.1],"nice":false,"zero":false}},
 "y":{"field":"v","type":"quantitative","scale":{"domain":[-0.015,0.015],"nice":false,"zero":false}},"y2":{"datum":0},
 "color":{"condition":{"test":"datum.v >= 0","value":"#11801a"},"value":"#d01414"}}},
{"data":{"name":"osc"},"mark":{"type":"line","color":"#e8cc1c","strokeWidth":1.1,"interpolate":"linear"},
 "encoding":{"x":{"field":"t","type":"quantitative","scale":{"domain":[-0.41,155.1],"nice":false,"zero":false}},
 "y":{"field":"v","type":"quantitative","scale":{"domain":[-0.015,0.015],"nice":false,"zero":false}}}},
{"data":{"values":[{"text":"DsSOSO 0.000076","t":0.6,"v":0.0138}]},"mark":{"type":"text","fontSize":6.5,"color":"#c8562c","align":"left","baseline":"middle"},
 "encoding":{"x":{"field":"t","type":"quantitative","scale":{"domain":[-0.41,155.1],"nice":false,"zero":false}},
 "y":{"field":"v","type":"quantitative","scale":{"domain":[-0.015,0.015],"nice":false,"zero":false}},"text":{"field":"text"}}},
{"data":{"values":[{"v":0.00737},{"v":-0.00737}]},"mark":{"type":"point","shape":"M-1,-0.28H1V0.28H-1Z","filled":true,"color":"#f4f400","size":784,"opacity":1},
 "encoding":{"x":{"datum":158.3,"type":"quantitative","scale":{"domain":[-0.41,155.1],"nice":false,"zero":false}},
 "y":{"field":"v","type":"quantitative","scale":{"domain":[-0.015,0.015],"nice":false,"zero":false}}}},
{"data":{"values":[{"v":0.00737,"text":"0.007370"},{"v":-0.00737,"text":"-0.007370"}]},"mark":{"type":"text","fontSize":6,"color":"#111111","align":"center","baseline":"middle"},
 "encoding":{"x":{"datum":158.3,"type":"quantitative","scale":{"domain":[-0.41,155.1],"nice":false,"zero":false}},
 "y":{"field":"v","type":"quantitative","scale":{"domain":[-0.015,0.015],"nice":false,"zero":false}},"text":{"field":"text"}}}
]
}
]
}
